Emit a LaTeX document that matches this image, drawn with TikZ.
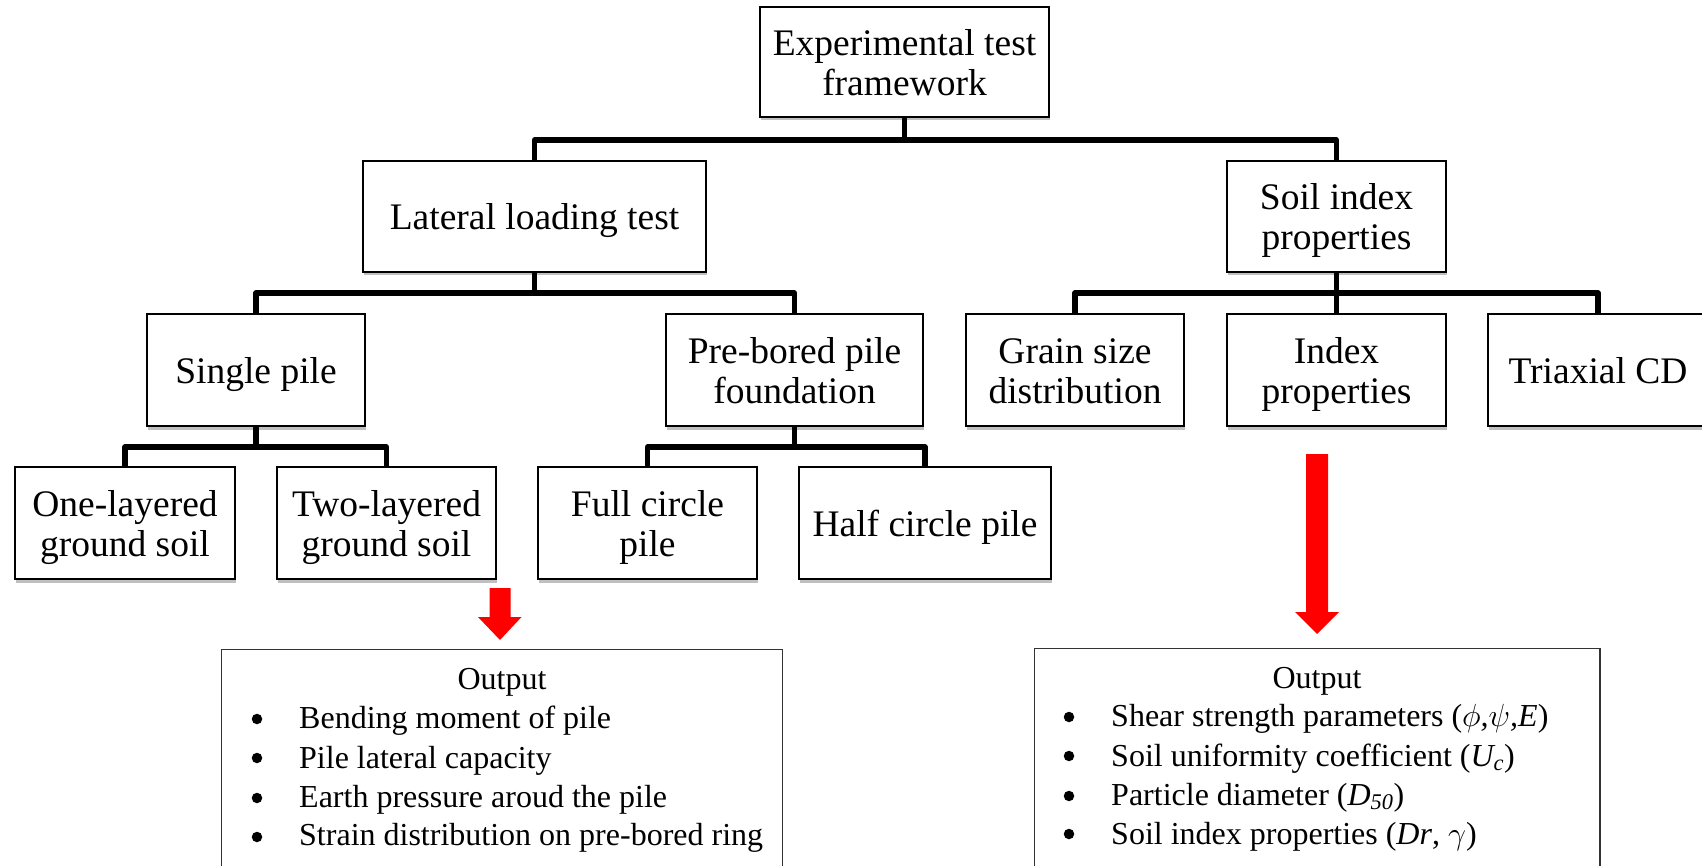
\RequirePackage{fix-cm}
\documentclass[tikz,border=0pt]{standalone}
\usepackage{fontspec}
\setmainfont{Liberation Serif}
\usetikzlibrary{shadows}
\newcommand{\boxfont}{\fontsize{37.5}{40}\selectfont}
\newcommand{\outfont}{\fontsize{32}{38}\selectfont}
\newcommand{\boxtxt}[1]{\raisebox{-5.5pt}[\height][\depth]{\begin{tabular}{@{}c@{}}#1\end{tabular}}}
\tikzset{
  box/.style={draw=black, line width=2pt, fill=white, align=center, inner sep=2pt,
    font=\boxfont,
    drop shadow={shadow xshift=0.8pt, shadow yshift=-3.5pt, fill=black!55, opacity=0.45}},
  conn/.style={line width=5.3pt, line join=round},
  outbox/.style={draw=black!80, line width=1.4pt, fill=white, minimum height=300pt, anchor=north},
  outtxt/.style={font=\outfont, anchor=base west, inner sep=0pt},
  outhead/.style={font=\outfont, anchor=base, inner sep=0pt},
  dotbul/.style={circle, fill=black, inner sep=0pt, minimum size=10.5pt},
  redarrow/.style={fill=red, draw=none},
}
\begin{document}
\begin{tikzpicture}[x=1pt, y=-1pt]
\useasboundingbox (0,0) rectangle (1702,866);
\clip (0,0) rectangle (1702,866);

% level 1
\node[box, minimum width=289pt, minimum height=110pt] (top) at (904.5,62) {\boxtxt{Experimental test\\framework}};
% level 2
\node[box, minimum width=343pt, minimum height=111pt] (lat) at (534.5,216.5) {\boxtxt{Lateral loading test}};
\node[box, minimum width=219pt, minimum height=111pt] (soil) at (1336.5,216.5) {\boxtxt{Soil index\\properties}};
% level 3
\node[box, minimum width=218pt, minimum height=112pt] (single) at (256,370) {\boxtxt{Single pile}};
\node[box, minimum width=257pt, minimum height=112pt] (pre) at (794.5,370) {\boxtxt{Pre-bored pile\\foundation}};
\node[box, minimum width=218pt, minimum height=112pt] (grain) at (1075,370) {\boxtxt{Grain size\\distribution}};
\node[box, minimum width=219pt, minimum height=112pt] (index) at (1336.5,370) {\boxtxt{Index\\properties}};
\node[box, minimum width=220pt, minimum height=112pt] (tri) at (1598,370) {\boxtxt{Triaxial CD}};
% level 4
\node[box, minimum width=220pt, minimum height=112pt] (one) at (125,523) {\boxtxt{One-layered\\ground soil}};
\node[box, minimum width=219pt, minimum height=112pt] (two) at (386.5,523) {\boxtxt{Two-layered\\ground soil}};
\node[box, minimum width=219pt, minimum height=112pt] (full) at (647.5,523) {\boxtxt{Full circle\\pile}};
\node[box, minimum width=252pt, minimum height=112pt] (half) at (925,523) {\boxtxt{Half circle pile}};

% bar levels
\coordinate (b1) at (0,140);
\coordinate (b2) at (0,293);
\coordinate (b3) at (0,447);

% connectors
\draw[conn] (top.south) -- (top.south |- b1);
\draw[conn] (lat.north) |- (soil.north |- b1) -- (soil.north);

\draw[conn] (lat.south) -- (lat.south |- b2);
\draw[conn] (single.north) |- (pre.north |- b2) -- (pre.north);

\draw[conn] (soil.south) -- (soil.south |- b2);
\draw[conn] (grain.north) |- (tri.north |- b2) -- (tri.north);
\draw[conn] (index.north) -- (index.north |- b2);

\draw[conn] (single.south) -- (single.south |- b3);
\draw[conn] (one.north) |- (two.north |- b3) -- (two.north);

\draw[conn] (pre.south) -- (pre.south |- b3);
\draw[conn] (full.north) |- (half.north |- b3) -- (half.north);

% output boxes
\node[outbox, minimum width=561pt] (outL) at (502,649) {};
\node[outbox, minimum width=565.5pt] (outR) at (1317.25,648) {};

% red arrows
\coordinate (arrL) at (500,588);
\fill[redarrow] (arrL) ++(-10.5,0) -- ++(21,0) -- ++(0,29) -- ++(11,0) -- (500,640) -- (478,617) -- (489.5,617) -- cycle;
\coordinate (arrR) at (1317,454);
\fill[redarrow] (arrR) ++(-11,0) -- ++(22,0) -- ++(0,158) -- ++(11,0) -- (1317,634) -- (1295,612) -- (1306,612) -- cycle;

% left output text
\node[outhead] (oL) at (502,689) {Output};
\node[dotbul] (bL1) at (257,719) {};
\node[dotbul] (bL2) at (257,758) {};
\node[dotbul] (bL3) at (257,798) {};
\node[dotbul] (bL4) at (257,837) {};
\node[outtxt] (tL1) at (299,728) {Bending moment of pile};
\node[outtxt] (tL2) at (299,768) {Pile lateral capacity};
\node[outtxt] (tL3) at (299,807) {Earth pressure aroud the pile};
\node[outtxt] (tL4) at (299,845) {Strain distribution on pre-bored ring};

% right output text
\node[outhead] (oR) at (1317,688) {Output};
\node[dotbul] (bR1) at (1069,717) {};
\node[dotbul] (bR2) at (1069,756) {};
\node[dotbul] (bR3) at (1069,796) {};
\node[dotbul] (bR4) at (1069,834) {};
\node[outtxt] (tR1) at (1111,726) {Shear strength parameters (\textit{$\phi$,$\psi$,E})};
\node[outtxt] (tR2) at (1111,766) {Soil uniformity coefficient (\textit{U\textsubscript{c}})};
\node[outtxt] (tR3) at (1111,805) {Particle diameter (\textit{D\textsubscript{50}})};
\node[outtxt] (tR4) at (1111,844) {Soil index properties (\textit{Dr}, $\gamma$)};
\end{tikzpicture}
\end{document}
